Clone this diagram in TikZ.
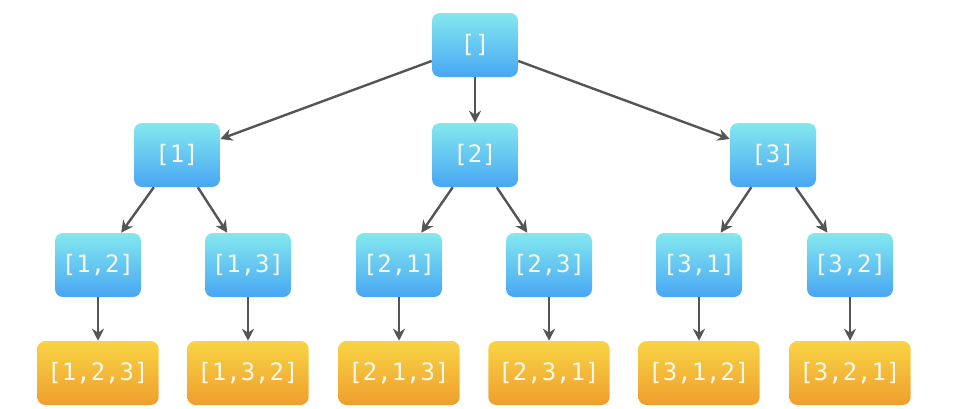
\documentclass[tikz,border=0pt]{standalone}
\usepackage{fontspec}
\setmonofont{DejaVu Sans Mono}
\usetikzlibrary{arrows.meta,shadings}
\definecolor{bluetop}{HTML}{84E8EE}
\definecolor{bluebot}{HTML}{48A6F4}
\definecolor{orangetop}{HTML}{F8D444}
\definecolor{orangebot}{HTML}{EF9E2E}
\definecolor{edgegray}{HTML}{555555}
\definecolor{labeltext}{HTML}{F4F8EC}
\tikzset{
  perm/.style={rounded corners=6pt, minimum width=64.5pt, minimum height=48pt,
    text=labeltext, font=\ttfamily\fontsize{18}{21}\selectfont, inner sep=2pt,
    top color=bluetop, bottom color=bluebot, draw=none},
  leaf/.style={perm, minimum width=91pt, top color=orangetop, bottom color=orangebot},
  link/.style={draw=edgegray, line width=1.8pt, -{Stealth[length=9pt,width=9pt]}}
}
\begin{document}
\begin{tikzpicture}[x=0.75pt,y=-0.75pt]
  \useasboundingbox (0,0) rectangle (966,408);
  \node[perm] (r) at (475,45) {[]};
  \node[perm] (a) at (177,155) {[1]};
  \node[perm] (b) at (475,155) {[2]};
  \node[perm] (c) at (773,155) {[3]};
  \node[perm] (a1) at (98,265) {[1,2]};
  \node[perm] (a2) at (248,265) {[1,3]};
  \node[perm] (b1) at (399,265) {[2,1]};
  \node[perm] (b2) at (549,265) {[2,3]};
  \node[perm] (c1) at (699,265) {[3,1]};
  \node[perm] (c2) at (850,265) {[3,2]};
  \node[leaf] (a1x) at (98,373) {[1,2,3]};
  \node[leaf] (a2x) at (248,373) {[1,3,2]};
  \node[leaf] (b1x) at (399,373) {[2,1,3]};
  \node[leaf] (b2x) at (549,373) {[2,3,1]};
  \node[leaf] (c1x) at (699,373) {[3,1,2]};
  \node[leaf] (c2x) at (850,373) {[3,2,1]};
  \foreach \p/\q in {r/a,r/b,r/c,a/a1,a/a2,b/b1,b/b2,c/c1,c/c2,
                     a1/a1x,a2/a2x,b1/b1x,b2/b2x,c1/c1x,c2/c2x}
    \draw[link] (\p) -- (\q);
\end{tikzpicture}
\end{document}
